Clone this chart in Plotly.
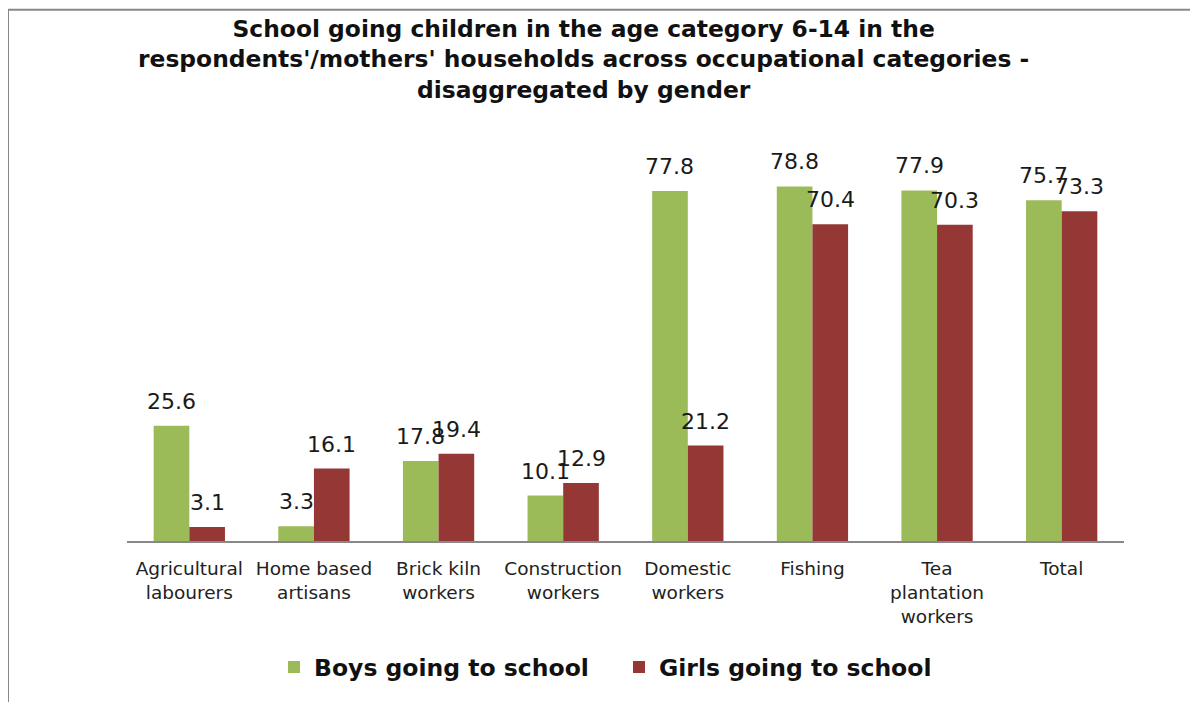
import plotly.graph_objects as go

categories = ["Agricultural<br>labourers", "Home based<br>artisans", "Brick kiln<br>workers",
              "Construction<br>workers", "Domestic<br>workers", "Fishing",
              "Tea<br>plantation<br>workers", "Total"]
boys = [25.6, 3.3, 17.8, 10.1, 77.8, 78.8, 77.9, 75.7]
girls = [3.1, 16.1, 19.4, 12.9, 21.2, 70.4, 70.3, 73.3]
series_names = ["Boys going to school", "Girls going to school"]
title_text = ("School going children in the age category 6-14 in the<br>"
              "respondents'/mothers' households across occupational categories -<br>"
              "disaggregated by gender")

# figure pixel geometry (page body margin of 8px offsets the figure in the screenshot)
W, H = 1190, 694
L, R, B = 119, 1116, 533.5
YMAX = 90
PX_PER = 4.51
T = B - YMAX * PX_PER
PW = R - L
PH = B - T
BARGAP = 0.428
CATW = PW / len(categories)
HALF = CATW * (1 - BARGAP) / 4  # offset of each bar centre from category centre

def px(x):
    return (x - L) / PW

def py(y):
    return (B - y) / PH

colors = ["#9BBB59", "#953735"]
legends = ["legend", "legend2"]
fig = go.Figure()
for name, vals, col, lg in zip(series_names, [boys, girls], colors, legends):
    fig.add_trace(go.Bar(x=categories, y=vals, name=name, marker_color=col,
                         marker_line_width=0, legend=lg))

label_font = dict(family="DejaVu Sans", size=22, color="#1a1a1a")
for vals, sh in [(boys, -HALF), (girls, HALF)]:
    for c, v in zip(categories, vals):
        fig.add_annotation(x=c, y=v, text=f"{v:.1f}", showarrow=False, xref="x", yref="y",
                           xanchor="center", yanchor="bottom", xshift=sh, yshift=10,
                           font=label_font)

fig.add_annotation(text="<b>" + title_text + "</b>", x=px(575), y=py(51), xref="paper", yref="paper",
                   xanchor="center", yanchor="middle", showarrow=False, align="center",
                   font=dict(family="DejaVu Sans", size=23.4, color="#111111"))

legend_font = dict(family="DejaVu Sans", size=23.5, color="#111111", weight="bold")
fig.update_layout(
    width=W, height=H,
    margin=dict(l=L, r=W - R, t=T, b=H - B, autoexpand=False),
    plot_bgcolor="white", paper_bgcolor="white",
    barmode="group", bargap=BARGAP, bargroupgap=0,
    legend=dict(orientation="h", x=px(266), xanchor="left", y=py(660), yanchor="middle",
                font=legend_font, itemwidth=30),
    legend2=dict(orientation="h", x=px(611), xanchor="left", y=py(660), yanchor="middle",
                 font=legend_font, itemwidth=30),
    xaxis=dict(showline=True, linecolor="#888888", linewidth=2, ticks="", showgrid=False,
               tickfont=dict(family="DejaVu Sans", size=18.5, color="#222222"), ticklabelstandoff=10),
    yaxis=dict(range=[0, YMAX], visible=False, showgrid=False),
    showlegend=True,
)

# chart border (left and top edges visible)
fig.add_shape(type="line", xref="paper", yref="paper", x0=px(0), x1=px(0), y0=py(H + 5), y1=py(1),
              line=dict(color="#888888", width=2))
fig.add_shape(type="line", xref="paper", yref="paper", x0=px(0), x1=px(W + 5), y0=py(1), y1=py(1),
              line=dict(color="#888888", width=2))

fig.write_html("out.html")
